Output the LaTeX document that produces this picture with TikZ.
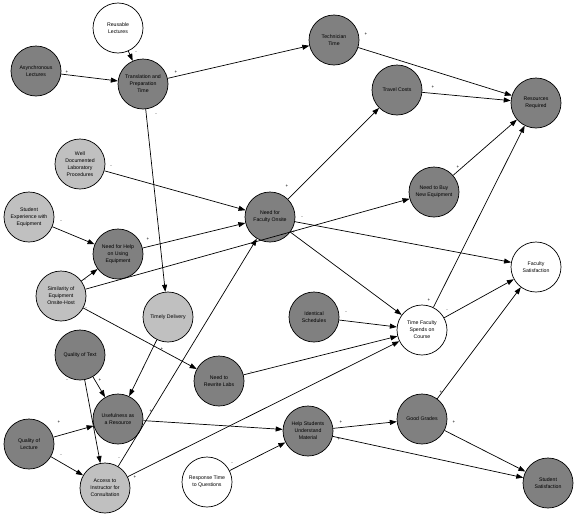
\documentclass[tikz,border=0pt]{standalone}
\usepackage{fontspec}
\setmainfont{Liberation Sans}
\usetikzlibrary{arrows.meta}
\definecolor{dkgray}{RGB}{128,128,128}
\definecolor{ltgray}{RGB}{192,192,192}
\begin{document}
\begin{tikzpicture}[x=1pt,y=-1pt,
  cnode/.style={circle, draw=black, line width=0.7pt, minimum size=50pt, inner sep=0pt, align=center, font=\fontsize{5.2}{7}\selectfont},
  dk/.style={cnode, fill=dkgray},
  lt/.style={cnode, fill=ltgray},
  wh/.style={cnode, fill=white},
  conn/.style={line width=0.7pt, -{Triangle[length=7pt,width=5pt]}},
  sgn/.style={font=\fontsize{4.5}{4.5}\selectfont, inner sep=0pt}]
\path[fill=white, use as bounding box] (0,0) rectangle (577,525);

\node[wh] (rl) at (118,28) {Reusable\\Lectures};
\node[dk] (al) at (36,71) {Asynchronous\\Lectures};
\node[dk] (tp) at (143,84) {Translation and\\Preparation\\Time};
\node[dk] (tt) at (334,40) {Technician\\Time};
\node[dk] (tc) at (397,90) {Travel Costs};
\node[dk] (rr) at (536,103) {Resources\\Required};
\node[lt] (wd) at (80,164) {Well\\Documented\\Laboratory\\Procedures};
\node[lt] (se) at (29,217) {Student\\Experience with\\Equipment};
\node[dk] (nh) at (118,254) {Need for Help\\on Using\\Equipment};
\node[dk] (nf) at (270,217) {Need for\\Faculty Onsite};
\node[dk] (nb) at (434,192) {Need to Buy\\New Equipment};
\node[wh] (fs) at (536,267) {Faculty\\Satisfaction};
\node[lt] (si) at (61,296) {Similarity of\\Equipment\\Onsite-Host};
\node[lt] (td) at (168,317) {Timely Delivery};
\node[dk] (is) at (314,317) {Identical\\Schedules};
\node[wh] (tf) at (422,330) {Time Faculty\\Spends on\\Course};
\node[dk] (qt) at (80,355) {Quality of Text};
\node[dk] (rw) at (219,381) {Need to\\Rewrite Labs};
\node[dk] (ur) at (118,419) {Usefulness as\\a Resource};
\node[dk] (ql) at (29,444) {Quality of\\Lecture};
\node[lt] (ai) at (105,488) {Access to\\Instructor for\\Consultation};
\node[dk] (hs) at (308,431) {Help Students\\Understand\\Material};
\node[wh] (rt) at (207,482) {Response Time\\to Questions};
\node[dk] (gg) at (422,419) {Good Grades};
\node[dk] (ss) at (548,483) {Student\\Satisfaction};

\draw[conn] (rl) -- (tp);
\draw[conn] (al) -- (tp);
\draw[conn] (tp) -- (tt);
\draw[conn] (tp) -- (td);
\draw[conn] (tt) -- (rr);
\draw[conn] (tc) -- (rr);
\draw[conn] (nf) -- (tc);
\draw[conn] (nb) -- (rr);
\draw[conn] (tf) -- (rr);
\draw[conn] (wd) -- (nf);
\draw[conn] (se) -- (nh);
\draw[conn] (nh) -- (nf);
\draw[conn] (si) -- (nh);
\draw[conn] (si) -- (nb);
\draw[conn] (si) -- (rw);
\draw[conn] (nf) -- (fs);
\draw[conn] (nf) -- (tf);
\draw[conn] (is) -- (tf);
\draw[conn] (rw) -- (tf);
\draw[conn] (ai) -- (tf);
\draw[conn] (tf) -- (fs);
\draw[conn] (gg) -- (fs);
\draw[conn] (td) -- (ur);
\draw[conn] (qt) -- (ur);
\draw[conn] (qt) -- (ai);
\draw[conn] (ql) -- (ur);
\draw[conn] (ql) -- (ai);
\draw[conn] (ai) -- (nf);
\draw[conn] (ur) -- (hs);
\draw[conn] (rt) -- (hs);
\draw[conn] (hs) -- (gg);
\draw[conn] (hs) -- (ss);
\draw[conn] (gg) -- (ss);

\node[sgn] (s1) at (136,53) {-};
\node[sgn] (s2) at (67,72) {+};
\node[sgn] (s3) at (176,72) {+};
\node[sgn] (s4) at (156,115) {-};
\node[sgn] (s5) at (366,34) {+};
\node[sgn] (s6) at (433,87) {+};
\node[sgn] (s7) at (287,186) {+};
\node[sgn] (s8) at (458,167) {+};
\node[sgn] (s9) at (429,300) {+};
\node[sgn] (s10) at (111,167) {-};
\node[sgn] (s11) at (61,222) {-};
\node[sgn] (s12) at (148,239) {+};
\node[sgn] (s13) at (85,281) {-};
\node[sgn] (s14) at (86,309) {-};
\node[sgn] (s15) at (302,218) {-};
\node[sgn] (s16) at (294,232) {+};
\node[sgn] (s17) at (346,313) {-};
\node[sgn] (s18) at (251,373) {-};
\node[sgn] (s19) at (135,477) {+};
\node[sgn] (s20) at (447,311) {-};
\node[sgn] (s21) at (441,392) {+};
\node[sgn] (s22) at (162,349) {+};
\node[sgn] (s23) at (100,380) {+};
\node[sgn] (s24) at (67,381) {-};
\node[sgn] (s25) at (59,422) {+};
\node[sgn] (s26) at (61,456) {-};
\node[sgn] (s27) at (119,459) {-};
\node[sgn] (s28) at (151,411) {+};
\node[sgn] (s29) at (232,464) {-};
\node[sgn] (s30) at (341,422) {+};
\node[sgn] (s31) at (339,439) {+};
\node[sgn] (s32) at (454,422) {+};
\end{tikzpicture}
\end{document}
